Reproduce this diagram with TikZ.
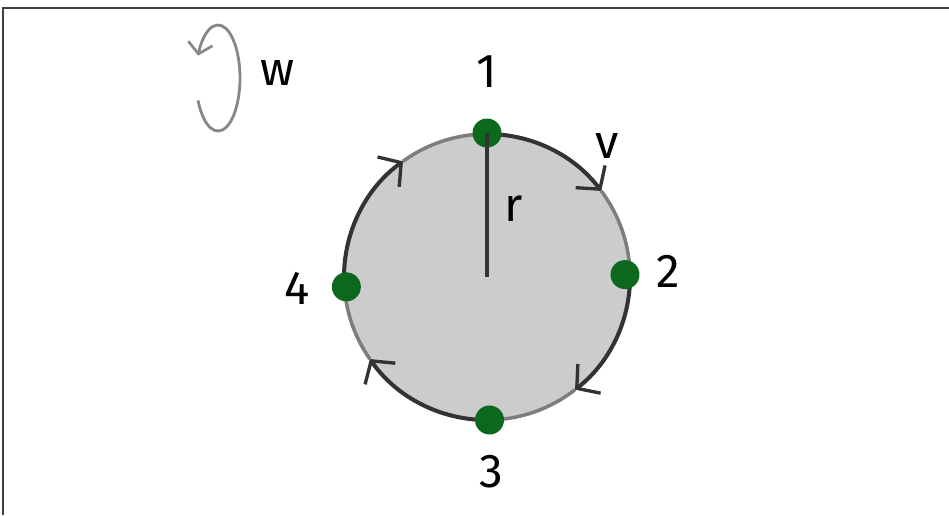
\documentclass[tikz,border=0pt]{standalone}
\usepackage{fontspec}
\setmainfont{Fira Sans}
\usetikzlibrary{arrows.meta, positioning}

\definecolor{dotgreen}{RGB}{12,104,28}
\definecolor{arcdark}{RGB}{51,51,51}
\definecolor{arclight}{RGB}{125,125,125}
\definecolor{diskfill}{RGB}{204,204,204}
\definecolor{loopgray}{RGB}{135,135,135}

\begin{document}
\begin{tikzpicture}[x=0.02cm, y=0.02cm,
    lbl/.style={inner sep=0pt, font=\fontsize{27}{30}\selectfont},
    mass/.style={circle, fill=dotgreen, inner sep=0pt, minimum size=0.58cm},
    darkarc/.style={draw=arcdark, line width=2.3pt, -{Straight Barb[length=9pt,width=21pt,line width=1.9pt]}},
    lightarc/.style={draw=arclight, line width=2pt},
    frameline/.style={draw=black!75, line width=1.2pt}
]
\useasboundingbox (0,0) rectangle (949,-515);

% Frame: top and left edges only
\coordinate (tl) at (3,-8);
\coordinate (tr) at (949,-8);
\coordinate (bl) at (3,-515);
\draw[frameline] (bl) -- (tl) -- (tr);

% Rotation symbol and its label
\coordinate (spin) at (218,-78);
\draw[draw=loopgray, line width=1.6pt, -{Straight Barb[length=6pt,width=14pt,line width=1.5pt]}]
    ([shift={(205:22 and 53)}]spin) arc[start angle=205, end angle=515, x radius=22, y radius=53];
\node[lbl] (w) at (278,-73) {w};

% Disk
\coordinate (c) at (487,-277);
\fill[diskfill] (c) circle[radius=143];

% Rim: dark arrowed arcs, then light remainders
\foreach \s/\e in {90/37, 0/-52, -90/-145, 180/126}
    \draw[darkarc] ([shift={(\s:143)}]c) arc[start angle=\s, end angle=\e, radius=143];
\foreach \s/\e in {37/0, -52/-90, -145/-180, 126/90}
    \draw[lightarc] ([shift={(\s:143)}]c) arc[start angle=\s, end angle=\e, radius=143];

% Masses on the rim
\node[mass] (p1) at ([shift={(90:144)}]c) {};
\node[mass] (p2) at ([shift={(1:138)}]c) {};
\node[mass] (p3) at ([shift={(-89:143)}]c) {};
\node[mass] (p4) at ([shift={(184:141)}]c) {};

% Radius
\draw[draw=arcdark, line width=2.2pt] (p1.center) -- (c);

% Labels
\node[lbl] (n1) at (487,-72) {1};
\node[lbl] (n2) at (668,-271) {2};
\node[lbl] (n3) at (491,-472) {3};
\node[lbl] (n4) at (297,-288) {4};
\node[lbl] (v) at (607,-146) {v};
\node[lbl] (r) at (514,-209) {r};
\end{tikzpicture}
\end{document}
